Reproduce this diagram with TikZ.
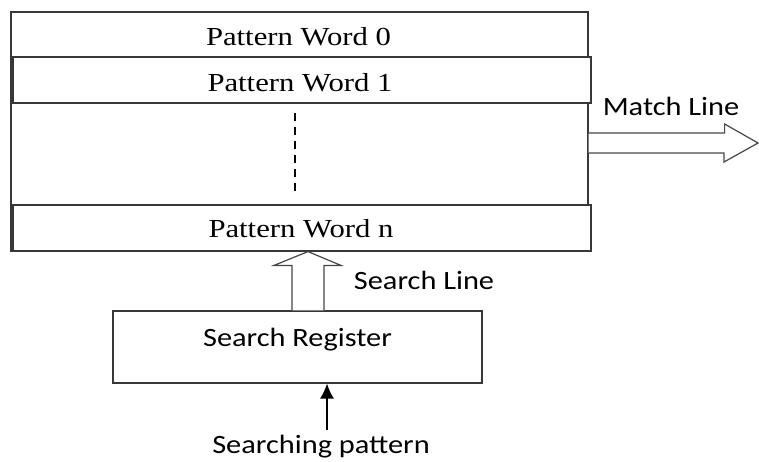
\documentclass[tikz,border=0pt]{standalone}
\usepackage{fontspec}
\setmainfont{Liberation Serif}
\newfontfamily\calfont{Carlito}
\usetikzlibrary{arrows.meta,calc}
\newcommand{\serl}[1]{\scalebox{1.18}[1]{\fontsize{26}{30}\selectfont #1}}
\newcommand{\sanl}[1]{\scalebox{1.15}[1]{\calfont\fontsize{26.4}{30}\selectfont #1}}
\begin{document}
\begin{tikzpicture}[x=1pt,y=-1pt,
  boxline/.style={draw=black!78,line width=1.2pt},
  wordbox/.style={boxline,fill=white,inner sep=0pt,minimum width=578pt,minimum height=46pt},
  lbl/.style={inner sep=0pt,anchor=base,text=black},
  hollow/.style={draw=black!72,line width=1.2pt,fill=white,line join=miter}]
\useasboundingbox (0,0) rectangle (759,461);
% outer memory block
\node[boxline,inner sep=0pt,minimum width=577pt,minimum height=239pt] (outer) at (299.5,131.5) {};
\node[lbl] (w0) at (298.5,45) {\serl{Pattern Word 0}};
\node[wordbox] (w1) at (302,80) {};
\node[lbl] (w1t) at (300,91) {\serl{Pattern Word 1}};
\node[wordbox] (wn) at (302,228) {};
\node[lbl] (wnt) at (301,237) {\serl{Pattern Word n}};
% dashed continuation
\coordinate (d1) at (295,113);
\coordinate (d2) at (295,195);
\draw[black,line width=1.4pt,dash pattern=on 8pt off 6pt] (d1) -- (d2);
% search register
\node[boxline,inner sep=0pt,minimum width=369pt,minimum height=72pt] (reg) at (297.5,347) {};
\node[lbl] (regt) at (297.5,346) {\sanl{Search Register}};
% search line arrow (hollow)
\draw[hollow] ($(reg.north)+(-5.5,0)$) -- ++(0,-45) -- ++(-18,0) -- ($(wn.south)+(6,0)$) -- ($(reg.north)+(43.5,-45)$) -- ++(-17,0) -- ++(0,45);
\node[lbl] (slt) at (424,289) {\sanl{Search Line}};
% match line arrow (hollow)
\draw[hollow] ($(outer.east)+(0,1.5)$) -- ++(136,0) -- ++(0,-9) -- (758,143) -- (724,162) -- (724,153) -- ($(outer.east)+(0,21.5)$);
\node[lbl] (mlt) at (671,115) {\sanl{Match Line}};
% searching pattern input
\node[lbl] (spt) at (321,453) {\sanl{Searching pattern}};
\coordinate (sp) at (327,430);
\draw[black,line width=1.3pt,-{Latex[length=15pt,width=14pt]}] (sp) -- (sp |- reg.south);
\end{tikzpicture}
\end{document}
